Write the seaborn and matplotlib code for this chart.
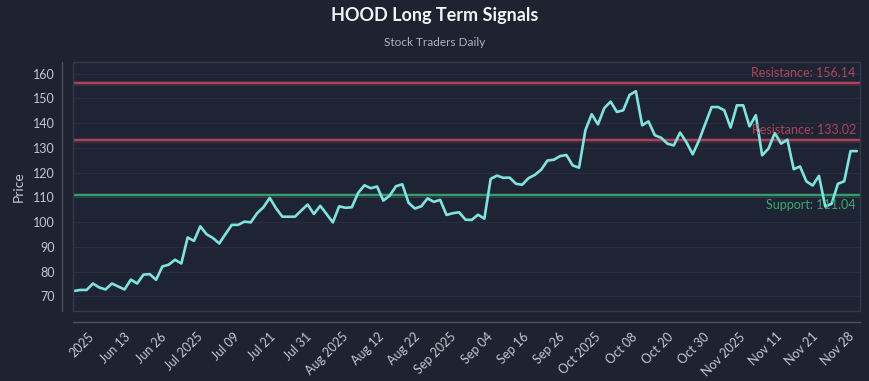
import numpy as np
import pandas as pd
import seaborn as sns
import matplotlib.pyplot as plt
from matplotlib.patches import Rectangle

# ---------------- data ----------------
prices = [
    72.2, 72.6, 72.6, 75.2, 73.6, 72.8, 75.2, 74.0, 72.8, 76.8, 75.2, 78.8,
    79.0, 76.7, 82.1, 82.8, 84.8, 83.3, 93.8, 92.4, 98.3, 95.1, 93.6, 91.4,
    95.2, 98.9, 98.9, 100.2, 99.9, 103.6, 106.0, 109.8, 105.6, 102.2, 102.2, 102.2,
    104.7, 107.1, 103.3, 106.6, 103.3, 99.9, 106.4, 105.8, 106.0, 111.8, 114.9, 113.7,
    114.4, 108.7, 110.7, 114.5, 115.3, 107.8, 105.5, 106.4, 109.6, 108.2, 109.0, 102.9,
    103.6, 104.0, 101.0, 100.9, 103.0, 101.4, 117.5, 118.8, 117.9, 118.0, 115.5, 115.1,
    117.8, 119.1, 121.2, 124.9, 125.2, 126.7, 127.1, 122.9, 122.0,
    137.1, 143.6, 139.5, 146.1, 148.7, 144.5, 145.2, 151.4, 152.9, 139.1, 140.7, 135.1,
    134.1, 131.7, 131.0, 136.2, 132.3, 127.4, 133.0, 139.8, 146.5, 146.5, 145.2, 138.2,
    147.2, 147.2, 138.7, 143.2, 127.0, 129.7, 136.0, 131.7, 133.3, 121.4, 122.5, 116.5,
    114.8, 118.7, 106.3, 107.4, 115.5, 116.5, 128.7, 128.7,
]
tick_labels = ["2025", "Jun 13", "Jun 26", "Jul 2025", "Jul 09", "Jul 21", "Jul 31",
               "Aug 2025", "Aug 12", "Aug 22", "Sep 2025", "Sep 04", "Sep 16", "Sep 26",
               "Oct 2025", "Oct 08", "Oct 20", "Oct 30", "Nov 2025", "Nov 11", "Nov 21",
               "Nov 28"]
resistance_levels = [156.14, 133.02]
support_levels = [111.04]
y_ticks = [70, 80, 90, 100, 110, 120, 130, 140, 150, 160]

title = "HOOD Long Term Signals"
subtitle = "Stock Traders Daily"

# ---------------- style ----------------
BG = "#1d2331"
AX_BG = "#1e2434"
LINE = "#7fe3df"
RES = "#c94a5e"
SUP = "#3fae74"
TXT = "#c3c8d1"

sns.set_theme(style="dark")
plt.rcParams['font.family'] = ['Lato', 'DejaVu Sans']

fig = plt.figure(figsize=(8.7, 3.81), dpi=100, facecolor=BG)
ax = fig.add_axes([73 / 870, 1 - 311 / 381, (860 - 73) / 870, (311 - 62) / 381])
ax.set_facecolor(AX_BG)

df = pd.DataFrame({"idx": np.arange(len(prices)), "price": prices})
sns.lineplot(data=df, x="idx", y="price", ax=ax, color=LINE, linewidth=1.9, zorder=5)

for lv in resistance_levels:
    ax.axhline(lv, color=RES, linewidth=3.5, alpha=0.22, zorder=3)
    ax.axhline(lv, color=RES, linewidth=1.5, alpha=0.8, zorder=3)
    ax.annotate(f"Resistance: {lv:.2f}", xy=(1, lv), xycoords=("axes fraction", "data"),
                xytext=(-3, 3), textcoords="offset points", ha="right", va="bottom",
                color=RES, fontsize=9, alpha=0.85, zorder=6)
for lv in support_levels:
    ax.axhline(lv, color=SUP, linewidth=3.5, alpha=0.18, zorder=3)
    ax.axhline(lv, color=SUP, linewidth=1.5, alpha=0.85, zorder=3)
    ax.annotate(f"Support: {lv:.2f}", xy=(1, lv), xycoords=("axes fraction", "data"),
                xytext=(-3, -3), textcoords="offset points", ha="right", va="top",
                color=SUP, fontsize=9, alpha=0.95, zorder=6)

n = len(prices)
ax.set_xlim(-0.16, n - 1 + 0.5)
ax.set_ylim(64.1, 164.7)
ax.set_xlabel("")
ax.set_ylabel("Price", color=TXT, fontsize=10, labelpad=6)

ax.grid(axis="y", color="#272e3f", linewidth=0.8)
ax.grid(axis="x", visible=False)

for s in ["top", "right"]:
    ax.spines[s].set_visible(False)
for s in ["left", "bottom"]:
    ax.spines[s].set_visible(True)
    ax.spines[s].set_color("#4a5263")
    ax.spines[s].set_linewidth(1.0)
    ax.spines[s].set_position(("outward", 8))

frame = Rectangle((0, 0), 1, 1, transform=ax.transAxes, fill=False,
                  edgecolor="#323a4b", linewidth=1.0, clip_on=False, zorder=7)
ax.add_patch(frame)

ax.tick_params(axis="both", length=0, colors=TXT, labelsize=9)
ax.tick_params(axis="y", pad=5)
ax.tick_params(axis="x", pad=6)
ax.set_yticks(y_ticks)
xt = np.linspace(3.6, 123.9, len(tick_labels))
ax.set_xticks(xt)
ax.set_xticklabels(tick_labels)
plt.setp(ax.get_xticklabels(), rotation=45, ha="right", rotation_mode="default")

fig.text(0.5, 1 - 16 / 381, title, ha="center", va="center", color="#f2f4f7",
         fontsize=13, fontweight="bold")
fig.text(0.5, 1 - 43 / 381, subtitle, ha="center", va="center", color="#aeb4bf",
         fontsize=8.5)

fig.savefig("out.png", dpi=100, facecolor=BG)
